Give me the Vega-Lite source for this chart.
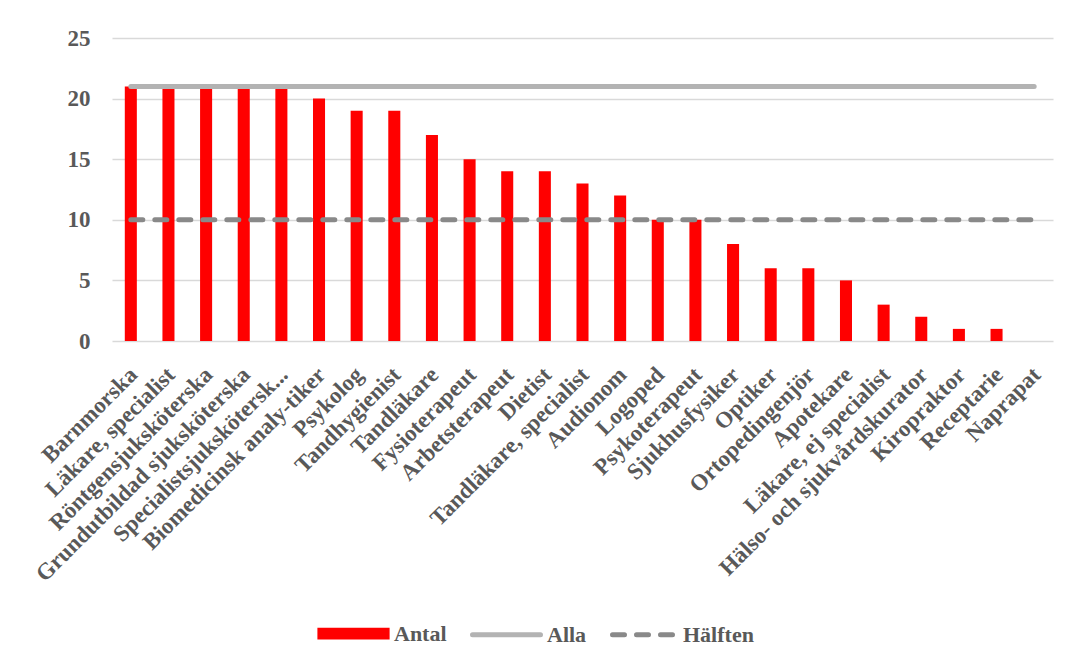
{
  "$schema": "https://vega.github.io/schema/vega-lite/v6.json",
  "autosize": {"type": "none"},
  "width": 941,
  "height": 303,
  "padding": {"left": 112, "top": 38, "right": 17, "bottom": 320},
  "background": "white",
  "config": {
    "view": {"stroke": null},
    "font": "Liberation Serif"
  },
  "data": {
    "values": [
      {"nr": 1, "yrke": "Barnmorska", "Antal": 21, "Alla": 21, "Hälften": 10},
      {"nr": 2, "yrke": "Läkare, specialist", "Antal": 21, "Alla": 21, "Hälften": 10},
      {"nr": 3, "yrke": "Röntgensjuksköterska", "Antal": 21, "Alla": 21, "Hälften": 10},
      {"nr": 4, "yrke": "Grundutbildad sjuksköterska", "Antal": 21, "Alla": 21, "Hälften": 10},
      {"nr": 5, "yrke": "Specialistsjuksköter­sk...", "Antal": 21, "Alla": 21, "Hälften": 10},
      {"nr": 6, "yrke": "Biomedicinsk analy-tiker", "Antal": 20, "Alla": 21, "Hälften": 10},
      {"nr": 7, "yrke": "Psykolog", "Antal": 19, "Alla": 21, "Hälften": 10},
      {"nr": 8, "yrke": "Tandhygienist", "Antal": 19, "Alla": 21, "Hälften": 10},
      {"nr": 9, "yrke": "Tandläkare", "Antal": 17, "Alla": 21, "Hälften": 10},
      {"nr": 10, "yrke": "Fysioterapeut", "Antal": 15, "Alla": 21, "Hälften": 10},
      {"nr": 11, "yrke": "Arbetsterapeut", "Antal": 14, "Alla": 21, "Hälften": 10},
      {"nr": 12, "yrke": "Dietist", "Antal": 14, "Alla": 21, "Hälften": 10},
      {"nr": 13, "yrke": "Tandläkare, specialist", "Antal": 13, "Alla": 21, "Hälften": 10},
      {"nr": 14, "yrke": "Audionom", "Antal": 12, "Alla": 21, "Hälften": 10},
      {"nr": 15, "yrke": "Logoped", "Antal": 10, "Alla": 21, "Hälften": 10},
      {"nr": 16, "yrke": "Psykoterapeut", "Antal": 10, "Alla": 21, "Hälften": 10},
      {"nr": 17, "yrke": "Sjukhusfysiker", "Antal": 8, "Alla": 21, "Hälften": 10},
      {"nr": 18, "yrke": "Optiker", "Antal": 6, "Alla": 21, "Hälften": 10},
      {"nr": 19, "yrke": "Ortopedingenjör", "Antal": 6, "Alla": 21, "Hälften": 10},
      {"nr": 20, "yrke": "Apotekare", "Antal": 5, "Alla": 21, "Hälften": 10},
      {"nr": 21, "yrke": "Läkare, ej specialist", "Antal": 3, "Alla": 21, "Hälften": 10},
      {"nr": 22, "yrke": "Hälso- och sjukvårdskurator", "Antal": 2, "Alla": 21, "Hälften": 10},
      {"nr": 23, "yrke": "Kiropraktor", "Antal": 1, "Alla": 21, "Hälften": 10},
      {"nr": 24, "yrke": "Receptarie", "Antal": 1, "Alla": 21, "Hälften": 10},
      {"nr": 25, "yrke": "Naprapat", "Antal": 0, "Alla": 21, "Hälften": 10}
    ]
  },
  "encoding": {
    "x": {
      "field": "yrke",
      "type": "nominal",
      "sort": null,
      "title": null,
      "scale": {"paddingInner": 0.68, "paddingOuter": 0.34},
      "axis": {
        "domain": false,
        "ticks": false,
        "labelAngle": -45,
        "labelFont": "Liberation Serif",
        "labelFontWeight": "bold",
        "labelFontSize": 23,
        "labelColor": "#595959",
        "labelPadding": 22,
        "labelOffset": -5,
        "labelLimit": 400
      }
    },
    "y": {
      "field": "värde",
      "type": "quantitative",
      "title": null,
      "scale": {"domain": [0, 25]},
      "axis": {
        "values": [0, 5, 10, 15, 20, 25],
        "domain": false,
        "ticks": false,
        "gridColor": "#d9d9d9",
        "gridWidth": 1.7,
        "labelFont": "Liberation Serif",
        "labelFontWeight": "bold",
        "labelFontSize": 23,
        "labelColor": "#595959",
        "labelPadding": 22
      }
    },
    "color": {
      "field": "serie",
      "type": "nominal",
      "scale": {"domain": ["Antal", "Alla", "Hälften"], "range": ["#ff0000", "#b3b3b3", "#898989"]},
      "legend": {
        "title": null,
        "orient": "none",
        "direction": "horizontal",
        "legendX": 209,
        "legendY": 563,
        "symbolSize": 4900,
        "labelFont": "Liberation Serif",
        "labelFontWeight": "bold",
        "labelFontSize": 22,
        "labelColor": "#595959",
        "labelOffset": 8,
        "columnPadding": 15,
        "labelLimit": 300,
        "encode": {
          "symbols": {
            "update": {
              "shape": {"signal": "datum.value === 'Antal' ? 'M-0.96,-0.095H0.96V0.095H-0.96Z' : 'stroke'"},
              "fill": {"signal": "datum.value === 'Antal' ? '#ff0000' : 'transparent'"},
              "stroke": {"signal": "datum.value === 'Antal' ? 'transparent' : (datum.value === 'Alla' ? '#b3b3b3' : '#898989')"},
              "strokeWidth": {"value": 5},
              "strokeCap": {"value": "round"},
              "strokeDash": {"signal": "datum.value === 'Hälften' ? [12, 12] : [1, 0]"},
              "size": {"signal": "datum.value === 'Antal' ? 4900 : (datum.value === 'Alla' ? 4624 : 3600)"},
              "opacity": {"value": 1}
            }
          }
        }
      }
    }
  },
  "layer": [
    {
      "transform": [{"fold": ["Antal"], "as": ["serie", "värde"]}],
      "mark": {"type": "bar"}
    },
    {
      "transform": [{"fold": ["Alla", "Hälften"], "as": ["serie", "värde"]}],
      "mark": {"type": "line", "strokeWidth": 5, "strokeCap": "round"},
      "encoding": {
        "strokeDash": {
          "field": "serie",
          "type": "nominal",
          "scale": {"domain": ["Alla", "Hälften"], "range": [[1, 0], [12, 12]]},
          "legend": null
        },
        "order": {"field": "nr", "type": "quantitative"}
      }
    }
  ]
}
